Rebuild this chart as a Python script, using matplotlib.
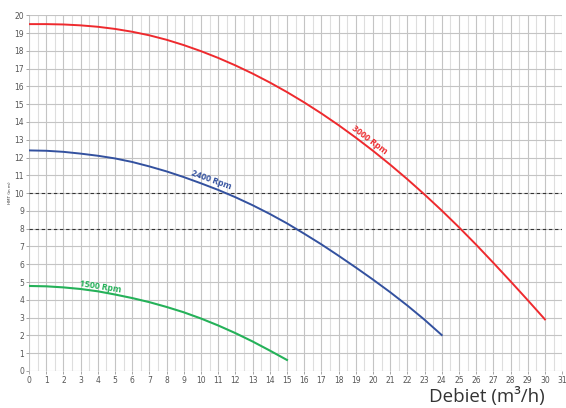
import matplotlib
matplotlib.use("Agg")
import matplotlib.pyplot as plt
from matplotlib.ticker import MultipleLocator

# flow (m3/h) and head (m)
q_3000 = [0, 1, 2, 3, 4, 5, 6, 7, 8, 9, 10, 11, 12, 13, 14, 15,
          16, 17, 18, 19, 20, 21, 22, 23, 24, 25, 26, 27, 28, 29, 30]
h_3000 = [19.5, 19.5, 19.48, 19.43, 19.35, 19.23, 19.07, 18.87, 18.62, 18.32,
          17.98, 17.6, 17.18, 16.72, 16.22, 15.68, 15.1, 14.48, 13.82, 13.12,
          12.38, 11.6, 10.78, 9.92, 9.02, 8.08, 7.1, 6.08, 5.04, 3.98, 2.9]

q_2400 = [0, 1, 2, 3, 4, 5, 6, 7, 8, 9, 10, 11, 12,
          13, 14, 15, 16, 17, 18, 19, 20, 21, 22, 23, 24]
h_2400 = [12.4, 12.38, 12.32, 12.22, 12.1, 11.95, 11.75, 11.5, 11.22, 10.9,
          10.55, 10.18, 9.77, 9.32, 8.83, 8.3, 7.72, 7.12, 6.48, 5.82, 5.14,
          4.43, 3.68, 2.88, 2.02]

q_1500 = [0, 1, 2, 3, 4, 5, 6, 7, 8, 9, 10, 11, 12, 13, 14, 15]
h_1500 = [4.78, 4.76, 4.7, 4.61, 4.48, 4.3, 4.1, 3.87, 3.6, 3.3, 2.95,
          2.56, 2.13, 1.66, 1.15, 0.62]

ref_levels = [10, 8]

x_ticks = list(range(0, 32))
y_ticks = list(range(0, 21))

fig = plt.figure(figsize=(5.66, 4.08), dpi=100)
ax = fig.add_axes([0.0512, 0.0907, 0.942, 0.872])

# grid
ax.xaxis.set_minor_locator(MultipleLocator(0.5))
ax.grid(which="major", color="#c4c4c4", linewidth=0.8)
ax.grid(which="minor", axis="x", color="#dedede", linewidth=0.8)

for lvl in ref_levels:
    ax.axhline(lvl, color="#333333", linestyle=(0, (3, 2.5)), linewidth=0.8, zorder=2)

ax.plot(q_3000, h_3000, color="#ee2a2e", linewidth=1.4, zorder=3)
ax.plot(q_2400, h_2400, color="#33519f", linewidth=1.4, zorder=3)
ax.plot(q_1500, h_1500, color="#25b159", linewidth=1.5, zorder=3)

lab_font = "Open Sans"
ax.text(19.8, 12.98, "3000 Rpm", color="#ee2a2e", fontsize=6.3, fontweight="bold",
        rotation=-37, ha="center", va="center", family=lab_font)
ax.text(10.6, 10.73, "2400 Rpm", color="#33519f", fontsize=6.3, fontweight="bold",
        rotation=-20, ha="center", va="center", family=lab_font)
ax.text(4.18, 4.72, "1500 Rpm", color="#25b159", fontsize=6.3, fontweight="bold",
        rotation=-9, ha="center", va="center", family=lab_font)

ax.set_xlim(0, 31)
ax.set_ylim(0, 20)
ax.set_xticks(x_ticks)
ax.set_yticks(y_ticks)
ax.tick_params(axis="both", which="major", labelsize=5.5, labelcolor="#555555",
               length=2, width=0.6, color="#999999", pad=1.5)
ax.tick_params(axis="both", which="minor", length=0)

for sp in ax.spines.values():
    sp.set_visible(False)

ax.set_ylabel("HMT (in m)", fontsize=3, color="#333333", labelpad=2)
fig.text(0.86, 0.027, "Debiet (m\u00b3/h)", fontsize=13.5, color="#333333",
         ha="center", va="center", family="Open Sans")

fig.savefig("out.png", dpi=100)
